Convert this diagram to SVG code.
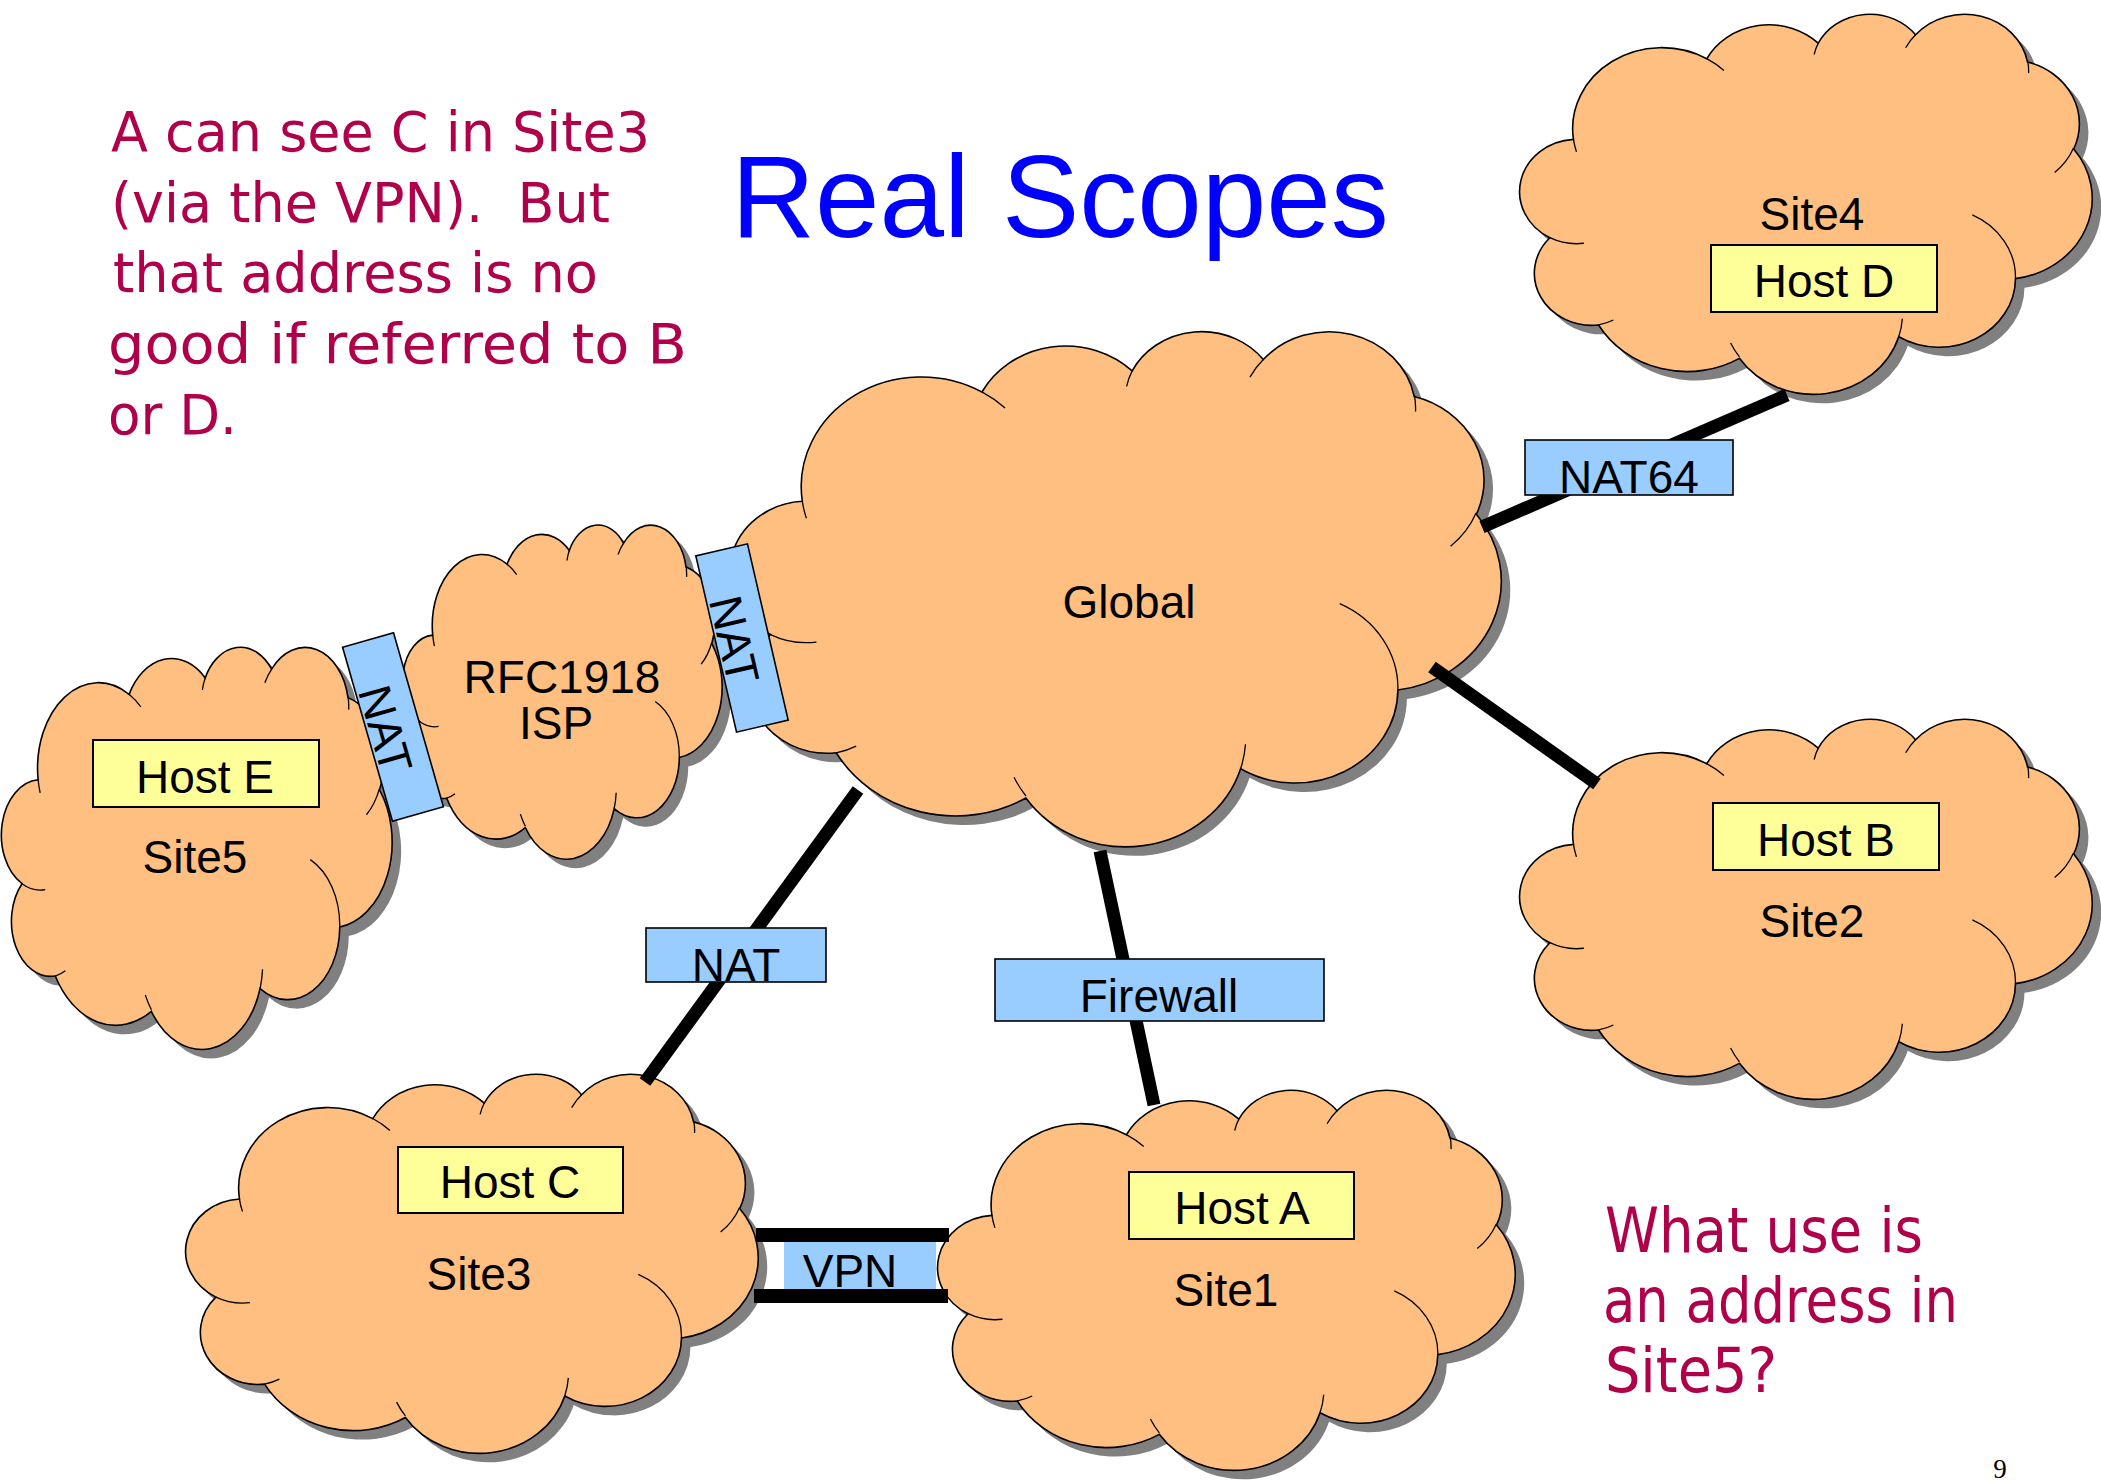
<svg xmlns="http://www.w3.org/2000/svg" xmlns:xlink="http://www.w3.org/1999/xlink" width="2101" height="1481" viewBox="0 0 2101 1481">
  <style>
    .shadow { fill: #808080; stroke: none; }
    .cloud { fill: #FFBF80; stroke: #000; stroke-width: 1.6; }
    .crease { fill: none; stroke: #000; stroke-width: 1.3; }
    .host { fill: #FFFF99; stroke: #000; stroke-width: 2; }
    .box { fill: #99CCFF; stroke: #000; stroke-width: 1.6; }
    .lbl { font-family: "Liberation Sans", Arial, sans-serif; font-size: 46px; fill: #000; text-anchor: middle; }
    .link { stroke: #000; stroke-width: 13; stroke-linecap: butt; fill: none; }
    .note { font-family: "Comic Sans MS", "DejaVu Sans", sans-serif; fill: #B0004A; white-space: pre; }
    .title { font-family: "Liberation Sans", Arial, sans-serif; font-size: 116px; fill: #0000FF; text-anchor: middle; }
  </style>
  <defs>
    <!-- cloud outline drawn in a 432 x 432 box -->
    <path id="cloudShape" vector-effect="non-scaling-stroke" d="M39,143.7 A67.53,91.9 0 0 1 140.03,52 A53.33,72.67 0 0 1 224.53,34.28 A43.65,59.45 0 0 1 298.3,24.79 A48.57,65.95 0 0 1 383.15,55.74 A53.33,72.73 0 0 1 418.15,154.57 A67.75,92.2 0 0 1 374,301.99 A57.85,78.67 0 0 1 285.52,368.09 A67.52,92.15 0 0 1 164.76,392.59 A77.2,105.43 0 0 1 58.06,354.65 A43.6,59.18 0 0 1 21.12,255.46 A43.45,59.45 0 0 1 39,143.7 Z"/>
    <!-- inner crease strokes of the cloud, same box -->
    <path id="cloudCreases" vector-effect="non-scaling-stroke" d="M46.93,261.77 A43.45,59.45 0 0 1 21.12,255.46 M69.28,348.99 A43.6,59.18 0 0 1 58.06,354.65 M164.78,390.9 A67.52,92.15 0 0 1 158.09,375.19 M288.27,347.51 A67.52,92.15 0 0 1 285.52,368.09 M341.29,229.54 A57.85,78.67 0 0 1 374,301.99 M417.98,153.54 A53.33,72.73 0 0 1 403.66,181.34 M383.24,54.26 A48.57,65.95 0 0 1 383.92,68.37 M290.78,39.52 A48.57,65.95 0 0 1 298.3,24.79 M221.41,47.2 A43.65,59.45 0 0 1 224.53,34.28 M140,51.92 A67.53,91.9 0 0 1 153.05,65.49 M41.27,157.89 A67.53,91.9 0 0 1 39,143.7"/>
  </defs>

  <rect x="0" y="0" width="2101" height="1481" fill="#FFFFFF"/>

  <text class="title" x="1060" y="237">Real Scopes</text>

  <g id="note-left" class="note" font-size="56">
    <text x="111" y="151" textLength="539" lengthAdjust="spacingAndGlyphs">A can see C in Site3</text>
    <text x="111" y="222" textLength="499" lengthAdjust="spacingAndGlyphs" xml:space="preserve">(via the VPN).  But</text>
    <text x="113" y="292" textLength="485" lengthAdjust="spacingAndGlyphs">that address is no</text>
    <text x="108" y="363" textLength="579" lengthAdjust="spacingAndGlyphs">good if referred to B</text>
    <text x="108" y="434" textLength="129" lengthAdjust="spacingAndGlyphs">or D.</text>
  </g>

  <g id="note-right" class="note" font-size="62">
    <text x="1605" y="1252" textLength="318" lengthAdjust="spacingAndGlyphs">What use is</text>
    <text x="1603" y="1322" textLength="355" lengthAdjust="spacingAndGlyphs">an address in</text>
    <text x="1605" y="1392" textLength="172" lengthAdjust="spacingAndGlyphs">Site5?</text>
  </g>

  <!-- clouds -->
  <g id="site4">
    <use xlink:href="#cloudShape" class="shadow" transform="translate(1531,22) scale(1.31944,0.87963)"/>
    <use xlink:href="#cloudShape" class="cloud" transform="translate(1522,13) scale(1.31944,0.87963)"/>
    <use xlink:href="#cloudCreases" class="crease" transform="translate(1522,13) scale(1.31944,0.87963)"/>
    <text class="lbl" x="1812" y="230">Site4</text>
    <rect class="host" x="1711" y="245" width="226" height="67"/>
    <text class="lbl" x="1824" y="297">Host D</text>
  </g>

  <g id="site2">
    <use xlink:href="#cloudShape" class="shadow" transform="translate(1531,727) scale(1.31944,0.87963)"/>
    <use xlink:href="#cloudShape" class="cloud" transform="translate(1522,718) scale(1.31944,0.87963)"/>
    <use xlink:href="#cloudCreases" class="crease" transform="translate(1522,718) scale(1.31944,0.87963)"/>
    <rect class="host" x="1713" y="803" width="226" height="67"/>
    <text class="lbl" x="1826" y="856">Host B</text>
    <text class="lbl" x="1812" y="937">Site2</text>
  </g>

  <g id="global">
    <use xlink:href="#cloudShape" class="shadow" transform="translate(742,339) scale(1.77778,1.19213)"/>
    <use xlink:href="#cloudShape" class="cloud" transform="translate(733,330) scale(1.77778,1.19213)"/>
    <use xlink:href="#cloudCreases" class="crease" transform="translate(733,330) scale(1.77778,1.19213)"/>
    <text class="lbl" x="1129" y="618">Global</text>
  </g>

  <g id="rfc1918-isp">
    <use xlink:href="#cloudShape" class="shadow" transform="translate(413,533) scale(0.73611,0.77315)"/>
    <use xlink:href="#cloudShape" class="cloud" transform="translate(404,524) scale(0.73611,0.77315)"/>
    <use xlink:href="#cloudCreases" class="crease" transform="translate(404,524) scale(0.73611,0.77315)"/>
    <text class="lbl"><tspan x="562" y="693">RFC1918</tspan><tspan x="556" y="739">ISP</tspan></text>
  </g>

  <g id="site5">
    <use xlink:href="#cloudShape" class="shadow" transform="translate(12,655) scale(0.90046,0.93056)"/>
    <use xlink:href="#cloudShape" class="cloud" transform="translate(3,646) scale(0.90046,0.93056)"/>
    <use xlink:href="#cloudCreases" class="crease" transform="translate(3,646) scale(0.90046,0.93056)"/>
    <rect class="host" x="93" y="740" width="226" height="67"/>
    <text class="lbl" x="205" y="793">Host E</text>
    <text class="lbl" x="195" y="873">Site5</text>
  </g>

  <g id="site3">
    <use xlink:href="#cloudShape" class="shadow" transform="translate(197,1082) scale(1.31944,0.87731)"/>
    <use xlink:href="#cloudShape" class="cloud" transform="translate(188,1073) scale(1.31944,0.87731)"/>
    <use xlink:href="#cloudCreases" class="crease" transform="translate(188,1073) scale(1.31944,0.87731)"/>
    <rect class="host" x="398" y="1147" width="225" height="66"/>
    <text class="lbl" x="510" y="1198">Host C</text>
    <text class="lbl" x="479" y="1290">Site3</text>
  </g>

  <g id="site1">
    <use xlink:href="#cloudShape" class="shadow" transform="translate(949,1098) scale(1.33102,0.87963)"/>
    <use xlink:href="#cloudShape" class="cloud" transform="translate(940,1089) scale(1.33102,0.87963)"/>
    <use xlink:href="#cloudCreases" class="crease" transform="translate(940,1089) scale(1.33102,0.87963)"/>
    <rect class="host" x="1129" y="1172" width="225" height="67"/>
    <text class="lbl" x="1242" y="1224">Host A</text>
    <text class="lbl" x="1226" y="1306">Site1</text>
  </g>

  <!-- links between the scopes -->
  <g id="connectors">
    <line class="link" x1="1787" y1="395" x2="1482" y2="527"/>
    <line class="link" x1="1432" y1="667" x2="1597" y2="784"/>
    <line class="link" x1="1100" y1="851" x2="1154" y2="1105"/>
    <line class="link" x1="858" y1="790" x2="645" y2="1082"/>
    <rect x="756" y="1228" width="193" height="14" fill="#000"/>
    <rect x="754" y="1289" width="194" height="14" fill="#000"/>
  </g>

  <!-- gateway labels sitting on the links -->
  <g id="nat64">
    <rect class="box" x="1525" y="440" width="208" height="55"/>
    <text class="lbl" x="1629" y="493">NAT64</text>
  </g>
  <g id="nat-site3">
    <rect class="box" x="646" y="928" width="180" height="54"/>
    <text class="lbl" x="736" y="981">NAT</text>
  </g>
  <g id="firewall">
    <rect class="box" x="995" y="959" width="329" height="62"/>
    <text class="lbl" x="1159" y="1012">Firewall</text>
  </g>
  <g id="vpn">
    <rect x="784" y="1242" width="152" height="47" fill="#99CCFF"/>
    <text class="lbl" x="850" y="1287">VPN</text>
  </g>
  <g id="nat-site5" transform="translate(393,727) rotate(74)">
    <rect class="box" x="-90.5" y="-26.5" width="181" height="53"/>
    <text class="lbl" x="0" y="24">NAT</text>
  </g>
  <g id="nat-isp" transform="translate(742,638) rotate(77)">
    <rect class="box" x="-90.5" y="-26.5" width="181" height="53"/>
    <text class="lbl" x="0" y="24">NAT</text>
  </g>

  <text x="2000" y="1478" font-family="Liberation Serif, serif" font-size="27" text-anchor="middle" fill="#000">9</text>
</svg>
